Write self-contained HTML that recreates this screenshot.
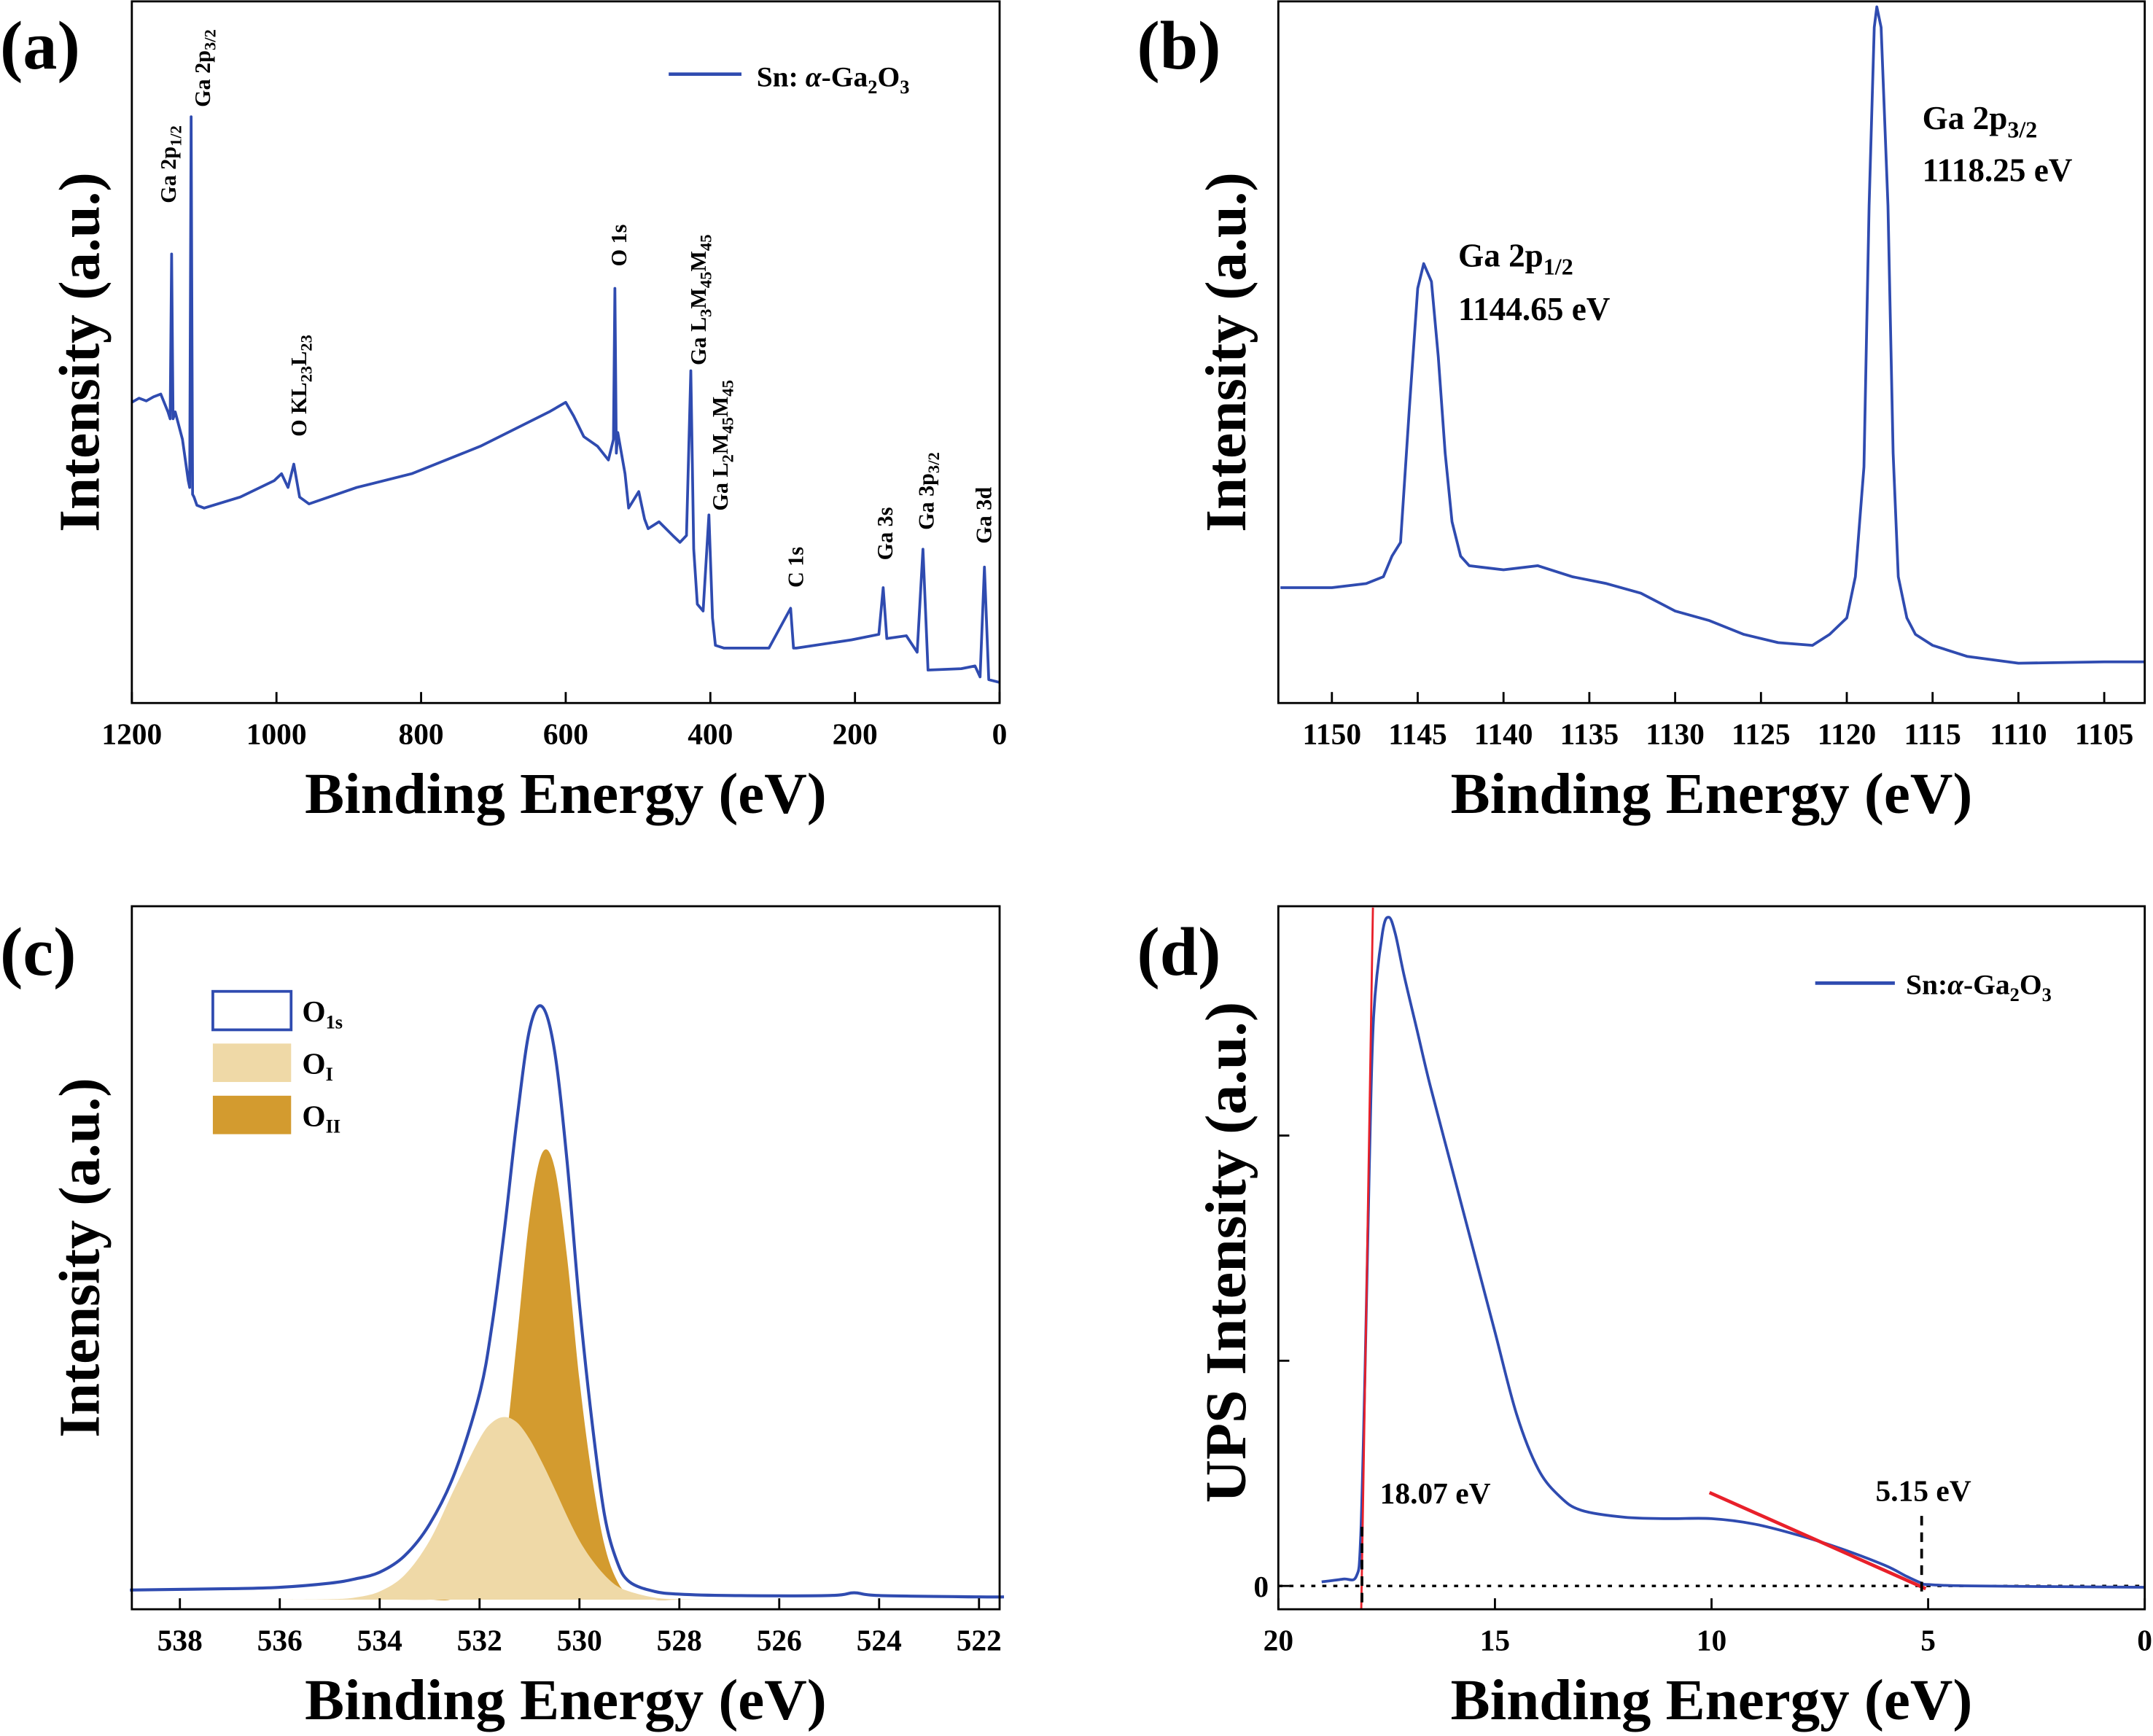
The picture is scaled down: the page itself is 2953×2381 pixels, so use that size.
<!DOCTYPE html>
<html><head><meta charset="utf-8"><style>
html,body{margin:0;padding:0;background:#fff}
svg{display:block}
text{font-family:"Liberation Serif",serif;font-weight:bold;fill:#000}
</style></head><body>
<svg id="fig" width="2953" height="2381" viewBox="0 0 1568 1264.3" xmlns="http://www.w3.org/2000/svg">
<rect x="0" y="0" width="1568" height="1264.3" fill="#fff"/>
<g id="pa"></g>
<g id="pb"></g>
<g id="pc"></g>
<g id="pd"></g>
</svg>
<script>
// ---------- Panel (a) survey ----------
const aEnergy=[1200,1190,1180,1170,1160,1150,1147,1145,1143,1140,1130,1122,1120,1118,1116,1114,1110,1100,1050,1003,993,984,976,968,955,889,813,718,661,623,600,589,575,556,541,534,532,530,528,518,513,499,491,486,471,452,442,433,427,423,418,410,402,397,393,381,319,289,285,281,205,167,161,156,129,114,106,99,53,34,27,21,15,0];
const aIntensity=[219,222,220,223,225,212,207,327,207,212,192,162,157,427,152,150,144,142,150,162,167,157,174,150,145,157,167,187,202,212,219,209,194,187,177,192,302,182,197,167,142,154,134,127,132,122,117,122,242,112,72,67,137,62,42,40,40,69,40,40,46,50,84,47,49,37,112,24,25,27,19,99,17,15];
const aTicks=[1200,1000,800,600,400,200,0];
// ---------- Panel (b) Ga 2p ----------
const bEnergy=[1153,1150,1148,1147,1146.5,1146,1145.5,1145,1144.65,1144.2,1143.8,1143.4,1143,1142.5,1142,1140,1138,1136,1134,1132,1130,1128,1126,1124,1122,1121,1120,1119.5,1119,1118.7,1118.4,1118.25,1118,1117.6,1117.3,1117,1116.5,1116,1115,1113,1110,1105,1102.6];
const bIntensity=[84,84,87,92,107,117,212,302,320,307,252,182,132,107,100,97,100,92,87,80,67,60,50,44,42,50,62,92,172,362,492,507,492,362,182,92,62,50,42,34,29,30,30];
const bTicks=[1150,1145,1140,1135,1130,1125,1120,1115,1110,1105];
// ---------- Panel (c) O 1s ----------
const cEnergy=[539,537,536,535,534.5,534,533.5,533,532.5,532,531.75,531.5,531.25,531,530.75,530.5,530.25,530,529.75,529.5,529.25,529,528.5,528,527,525,524.5,524,522,521.5];
const cEnvelope=[7,8,9,12,15,20,32,55,92,150,200,270,350,415,432,400,320,215,130,62,28,13,6,4,3,3,5,3,2,2];
const cOI=[0,0,0,0.3,1.5,6,18,43,81,117,129,133,129,117,100,81,61,43,29,18,10,6,1.5,0.3,0,0,0,0,0,0];
const cOII=[0,0,0,0,0,0,0,0,1,16,47,105,190,278,325,315,250,160,90,40,14,4,0,0,0,0,0,0,0,0];
const cTicks=[538,536,534,532,530,528,526,524,522];
// ---------- Panel (d) UPS ----------
const dEnergy=[19,18.5,18.2,18.1,18.0,17.9,17.8,17.6,17.45,17.3,17.1,16.8,16.5,16,15.5,15,14.5,14,13.5,13,12,11,10,9,8,7,6,5.5,5.15,5,4,0];
const dIntensity=[3,5,7,35,155,305,415,475,487,475,445,405,365,305,245,185,125,85,65,55,50,49,49,45,37,27,15,7,2,1,0,-1];
const dTicks=[20,15,10,5,0];
const dCutoff=[18.07];
const dEdge=[5.15];

const NS="http://www.w3.org/2000/svg";
function el(parent,tag,attrs){const e=document.createElementNS(NS,tag);for(const k in attrs)e.setAttribute(k,attrs[k]);parent.appendChild(e);return e;}
function lin(d0,d1,r0,r1){return v=>r0+(v-d0)/(d1-d0)*(r1-r0);}
function path(xs,ys,X,Y){return xs.map((v,i)=>(i?'L':'M')+X(v).toFixed(2)+' '+Y(ys[i]).toFixed(2)).join(' ');}
function smooth(xs,ys,X,Y){
  const P=xs.map((v,i)=>[X(v),Y(ys[i])]);
  let d='M'+P[0][0].toFixed(2)+' '+P[0][1].toFixed(2);
  for(let i=0;i<P.length-1;i++){
    const p0=P[Math.max(0,i-1)],p1=P[i],p2=P[i+1],p3=P[Math.min(P.length-1,i+2)];
    const c1=[p1[0]+(p2[0]-p0[0])/6,p1[1]+(p2[1]-p0[1])/6];
    const c2=[p2[0]-(p3[0]-p1[0])/6,p2[1]-(p3[1]-p1[1])/6];
    d+=` C${c1[0].toFixed(2)} ${c1[1].toFixed(2)} ${c2[0].toFixed(2)} ${c2[1].toFixed(2)} ${p2[0].toFixed(2)} ${p2[1].toFixed(2)}`;
  }
  return d;
}

function frame(g,x0,y0,x1,y1,X,ticks,label,ylabel,letter,lx,ly){
  const r=el(g,'rect',{x:x0,y:y0,width:x1-x0,height:y1-y0,fill:'none',stroke:'#000','stroke-width':1.5});
  
  
  ticks.forEach(t=>{
    const x=X(t);
    const tk=el(g,'line',{x1:x,y1:y1,x2:x,y2:y1-8,stroke:'#000','stroke-width':1.5});
    
    
    const tl=el(g,'text',{x:x,y:y1+30,'text-anchor':'middle','font-size':22});
    tl.textContent=t;
    
    
  });
  const xt=el(g,'text',{x:(x0+x1)/2,y:y1+80,'text-anchor':'middle','font-size':42,textLength:380,lengthAdjust:'spacingAndGlyphs'});
  xt.textContent=label;
  
  
  const isUps=ylabel.length>17;
  const yt=el(g,'text',{x:0,y:0,'text-anchor':'middle','font-size':42,textLength:isUps?365:262,lengthAdjust:'spacingAndGlyphs',transform:`translate(${x0-24},${isUps?912:(y0+y1)/2}) rotate(-90)`});
  yt.textContent=ylabel;
  
  
  const pl=el(g,'text',{x:lx,y:ly,'font-size':50});
  pl.textContent=letter;
  
  
}
const BLUE='#2f4bb0';

// ---- (a)
(function(){
  const g=document.getElementById('pa');
  const X=lin(1200,0,96,728),Y=v=>512-v;
  const p=el(g,'path',{d:path(aEnergy,aIntensity,X,Y),fill:'none',stroke:BLUE,'stroke-width':2,'stroke-linejoin':'round'});
  
  
  frame(g,96,1,728,512,X,aTicks,'Binding Energy (eV)','Intensity (a.u.)','(a)',0,50);
  const labels=[[128,148,'Ga 2p<tspan font-size="12" dy="4">1/2</tspan>'],[153,78,'Ga 2p<tspan font-size="12" dy="4">3/2</tspan>'],[223,318,'O KL<tspan font-size="12" dy="4">23</tspan><tspan dy="-4">L</tspan><tspan font-size="12" dy="4">23</tspan>'],[456,194,'O 1s'],[514,266,'Ga L<tspan font-size="12" dy="4">3</tspan><tspan dy="-4">M</tspan><tspan font-size="12" dy="4">45</tspan><tspan dy="-4">M</tspan><tspan font-size="12" dy="4">45</tspan>'],[530,372,'Ga L<tspan font-size="12" dy="4">2</tspan><tspan dy="-4">M</tspan><tspan font-size="12" dy="4">45</tspan><tspan dy="-4">M</tspan><tspan font-size="12" dy="4">45</tspan>'],[585,428,'C 1s'],[650,408,'Ga 3s'],[680,386,'Ga 3p<tspan font-size="12" dy="4">3/2</tspan>'],[722,396,'Ga 3d']];
  labels.forEach(l=>{
    const t=el(g,'text',{x:0,y:0,'font-size':16,transform:`translate(${l[0]},${l[1]}) rotate(-90)`});
    t.innerHTML=l[2];
    
    
  });
  const ll=el(g,'line',{x1:487,y1:54,x2:540,y2:54,stroke:BLUE,'stroke-width':2.5});
  
  
  const lt=el(g,'text',{x:551,y:63,'font-size':21});
  lt.innerHTML='Sn: <tspan font-style="italic">α</tspan>-Ga<tspan font-size="14" dy="5">2</tspan><tspan dy="-5">O</tspan><tspan font-size="14" dy="5">3</tspan>';
  
  
})();

// ---- (b)
(function(){
  const g=document.getElementById('pb');
  const X=lin(1150,1105,970,1532.5),Y=v=>512-v;
  const p=el(g,'path',{d:path(bEnergy,bIntensity,X,Y),fill:'none',stroke:BLUE,'stroke-width':2,'stroke-linejoin':'round'});
  
  
  frame(g,931,1,1562,512,X,bTicks,'Binding Energy (eV)','Intensity (a.u.)','(b)',828,50);
  const ann=[[1400,94,'Ga 2p<tspan font-size="17" dy="6">3/2</tspan>'],[1400,132,'1118.25 eV'],[1062,194,'Ga 2p<tspan font-size="17" dy="6">1/2</tspan>'],[1062,233,'1144.65 eV']];
  ann.forEach(a=>{
    const t=el(g,'text',{x:a[0],y:a[1],'font-size':24});
    t.innerHTML=a[2];
    
    
  });
})();

// ---- (c)
(function(){
  const g=document.getElementById('pc');
  const X=lin(538,522,131,713),Y=v=>1165-v;
  function area(vals,fill,name){
    const d=smooth(cEnergy,vals,X,Y)+` L${X(cEnergy[cEnergy.length-1])} ${Y(0)} L${X(cEnergy[0])} ${Y(0)} Z`;
    const a=el(g,'path',{d:d,fill:fill,stroke:'none'});
    
    
  }
  area(cOII,'#d39b2f','oii-component');
  area(cOI,'#efd9a7','oi-component');
  const p=el(g,'path',{d:smooth(cEnergy,cEnvelope,X,Y),fill:'none',stroke:BLUE,'stroke-width':2.2,'stroke-linejoin':'round'});
  
  
  frame(g,96,660,728,1172,X,cTicks,'Binding Energy (eV)','Intensity (a.u.)','(c)',0,710);
  const leg=[[722,'#fff',BLUE,'O<tspan font-size="14" dy="5">1s</tspan>'],[760,'#efd9a7','none','O<tspan font-size="14" dy="5">I</tspan>'],[798,'#d39b2f','none','O<tspan font-size="14" dy="5">II</tspan>']];
  leg.forEach(l=>{
    const r=el(g,'rect',{x:155,y:l[0],width:57,height:28,fill:l[1],stroke:l[2],'stroke-width':2});
    
    
    const t=el(g,'text',{x:220,y:l[0]+22,'font-size':22,'font-weight':'normal'});
    t.innerHTML=l[3];
    
    
  });
})();

// ---- (d)
(function(){
  const g=document.getElementById('pd');
  const X=lin(20,0,931,1562),Y=v=>1155-v;
  const dot=el(g,'line',{x1:931,y1:1155,x2:1562,y2:1155,stroke:'#000','stroke-width':1.8,'stroke-dasharray':'3 5'});
  
  
  const p=el(g,'path',{d:smooth(dEnergy,dIntensity,X,Y),fill:'none',stroke:BLUE,'stroke-width':2,'stroke-linejoin':'round'});
  
  
  const r1=el(g,'line',{x1:X(dCutoff[0])-0.5,y1:1172,x2:X(dCutoff[0])+8,y2:661,stroke:'#e8202a','stroke-width':1.5});
  
  
  const r2=el(g,'line',{x1:1245,y1:1087,x2:X(dEdge[0])+3,y2:1157,stroke:'#e8202a','stroke-width':2.5});
  
  
  const v1=el(g,'line',{x1:X(dCutoff[0]),y1:1112,x2:X(dCutoff[0]),y2:1170,stroke:'#000','stroke-width':2,'stroke-dasharray':'7 5'});
  
  
  const v2=el(g,'line',{x1:X(dEdge[0]),y1:1104,x2:X(dEdge[0]),y2:1160,stroke:'#000','stroke-width':2,'stroke-dasharray':'7 5'});
  
  
  frame(g,931,660,1562,1172,X,dTicks,'Binding Energy (eV)','UPS Intensity (a.u.)','(d)',828,710);
  [1155,991,827].forEach(y=>{
    const tk=el(g,'line',{x1:931,y1:y,x2:939,y2:y,stroke:'#000','stroke-width':1.5});
    
    
  });
  const z=el(g,'text',{x:924,y:1163,'text-anchor':'end','font-size':22});
  z.textContent='0';
  
  
  const a1=el(g,'text',{x:1005,y:1095,'font-size':22});
  a1.textContent=dCutoff[0].toFixed(2)+' eV';
  
  
  const a2=el(g,'text',{x:1366,y:1093,'font-size':22});
  a2.textContent=dEdge[0].toFixed(2)+' eV';
  
  
  const ll=el(g,'line',{x1:1322,y1:716,x2:1380,y2:716,stroke:BLUE,'stroke-width':2.5});
  
  
  const lt=el(g,'text',{x:1388,y:724,'font-size':21});
  lt.innerHTML='Sn:<tspan font-style="italic">α</tspan>-Ga<tspan font-size="14" dy="5">2</tspan><tspan dy="-5">O</tspan><tspan font-size="14" dy="5">3</tspan>';
  
  
})();
</script>
</body></html>
